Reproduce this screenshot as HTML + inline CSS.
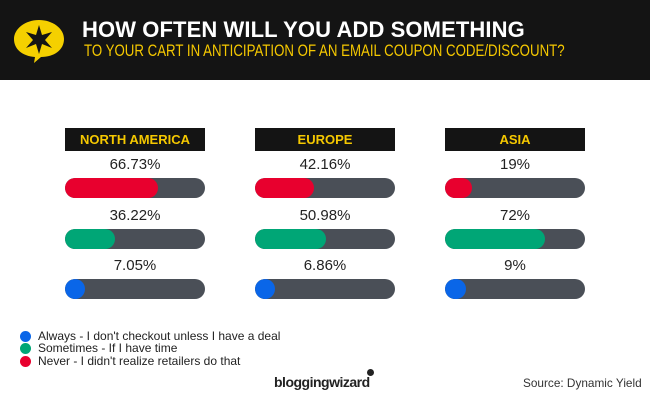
<!DOCTYPE html>
<html><head><style>
body{margin:0;width:650px;height:400px;background:#fff;position:relative;overflow:hidden;font-family:"Liberation Sans",sans-serif}
.hd{position:absolute;left:0;top:0;width:650px;height:80px;background:#141414}
.t1{position:absolute;left:82px;top:17px;color:#fff;font-weight:bold;font-size:22px;letter-spacing:0.1px;white-space:nowrap}
.t2{position:absolute;left:84px;top:41px;color:#f5c800;font-size:17px;transform:scaleX(0.78);transform-origin:left;white-space:nowrap}
.lab{position:absolute;width:140px;height:23px;top:128px;background:#141414;color:#f5c800;font-weight:bold;font-size:13px;text-align:center;line-height:23px}
.v{position:absolute;width:140px;text-align:center;font-size:15px;color:#222}
.tr{position:absolute;width:140px;height:20px;border-radius:10px;background:#4a4f57;overflow:hidden}
.f{height:100%;border-radius:10px}
.lg{position:absolute;left:38px;font-size:12px;color:#222;white-space:nowrap}
.dot{position:absolute;left:20px;width:11px;height:11px;border-radius:50%}
</style></head><body>
<div class="hd">
<svg style="position:absolute;left:12px;top:18px" width="55" height="46" viewBox="0 0 55 46"><path d="M27 2C40 2 52 10 52 21S42 39 29 39L22 45L23 39C10 38 2 31 2 21S13 2 27 2Z" fill="#f5d000"/><polygon points="27,7 30,17 40,14 33,22 40,30 30,26 27,36 24,26 14,30 21,22 14,14 24,17" fill="#141414"/></svg>
<div class="t1">HOW OFTEN WILL YOU ADD SOMETHING</div>
<div class="t2">TO YOUR CART IN ANTICIPATION OF AN EMAIL COUPON CODE/DISCOUNT?</div>
</div>

<div class="lab" style="left:65px">NORTH AMERICA</div>
<div class="lab" style="left:255px">EUROPE</div>
<div class="lab" style="left:445px">ASIA</div>

<div class="v" style="left:65px;top:156px">66.73%</div>
<div class="tr" style="left:65px;top:178px"><div class="f" style="width:93px;background:#e8002e"></div></div>
<div class="v" style="left:65px;top:207px">36.22%</div>
<div class="tr" style="left:65px;top:229px"><div class="f" style="width:50px;background:#00a676"></div></div>
<div class="v" style="left:65px;top:257px">7.05%</div>
<div class="tr" style="left:65px;top:279px"><div class="f" style="width:20px;background:#0a66e8"></div></div>

<div class="v" style="left:255px;top:156px">42.16%</div>
<div class="tr" style="left:255px;top:178px"><div class="f" style="width:59px;background:#e8002e"></div></div>
<div class="v" style="left:255px;top:207px">50.98%</div>
<div class="tr" style="left:255px;top:229px"><div class="f" style="width:71px;background:#00a676"></div></div>
<div class="v" style="left:255px;top:257px">6.86%</div>
<div class="tr" style="left:255px;top:279px"><div class="f" style="width:20px;background:#0a66e8"></div></div>

<div class="v" style="left:445px;top:156px">19%</div>
<div class="tr" style="left:445px;top:178px"><div class="f" style="width:27px;background:#e8002e"></div></div>
<div class="v" style="left:445px;top:207px">72%</div>
<div class="tr" style="left:445px;top:229px"><div class="f" style="width:100px;background:#00a676"></div></div>
<div class="v" style="left:445px;top:257px">9%</div>
<div class="tr" style="left:445px;top:279px"><div class="f" style="width:21px;background:#0a66e8"></div></div>

<div class="dot" style="top:331px;background:#0a66e8"></div><div class="lg" style="top:329px">Always - I don't checkout unless I have a deal</div>
<div class="dot" style="top:343px;background:#00a676"></div><div class="lg" style="top:341px">Sometimes - If I have time</div>
<div class="dot" style="top:356px;background:#e8002e"></div><div class="lg" style="top:354px">Never - I didn't realize retailers do that</div>

<div style="position:absolute;left:274px;top:374px;font-size:14px;font-weight:bold;color:#222;letter-spacing:-0.5px">bloggingwizard</div>
<div style="position:absolute;left:367px;top:369px;width:7px;height:7px;border-radius:50%;background:#222"></div>
<div style="position:absolute;left:523px;top:376px;font-size:11.8px;color:#333;white-space:nowrap">Source: Dynamic Yield</div>
</body></html>
